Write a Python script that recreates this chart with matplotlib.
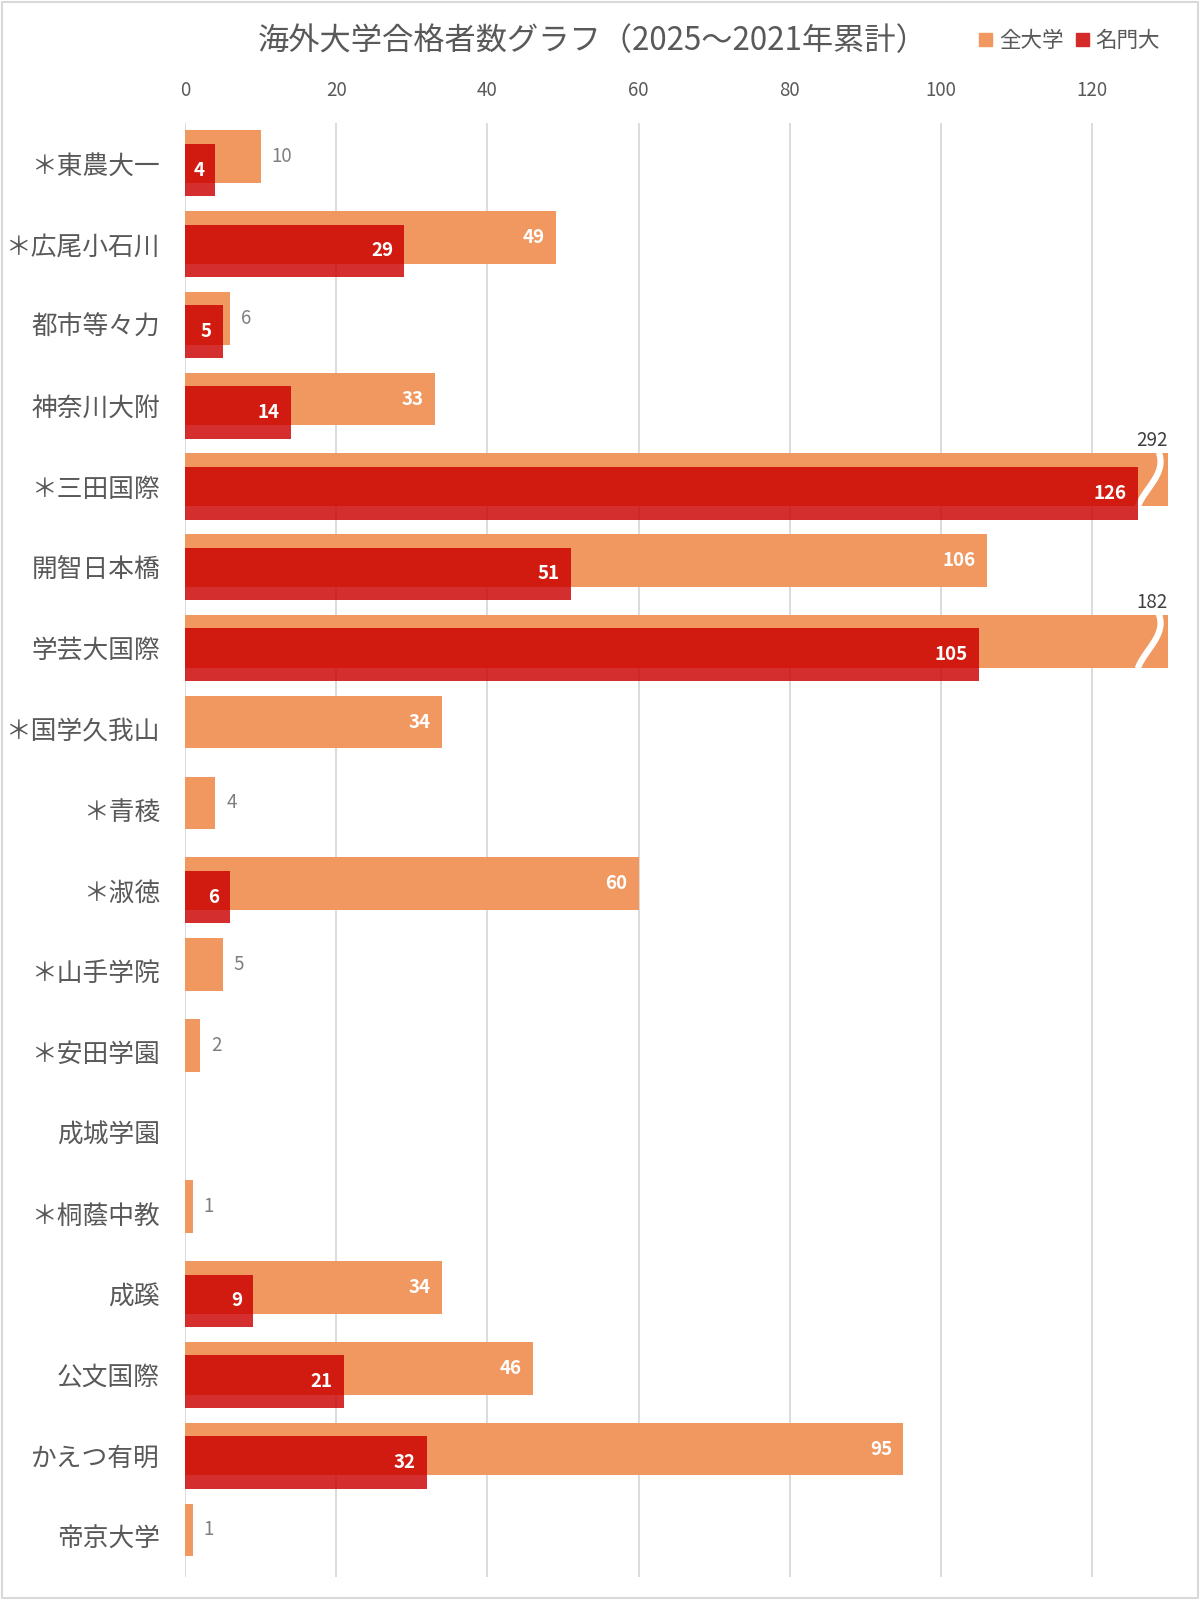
import numpy as np
import matplotlib.pyplot as plt
from matplotlib.patches import Patch, Rectangle

plt.rcParams['font.family'] = ['Noto Sans CJK JP', 'DejaVu Sans']

names = ['＊東農大一', '＊広尾小石川', '都市等々力', '神奈川大附', '＊三田国際',
         '開智日本橋', '学芸大国際', '＊国学久我山', '＊青稜', '＊淑徳',
         '＊山手学院', '＊安田学園', '成城学園', '＊桐蔭中教', '成蹊',
         '公文国際', 'かえつ有明', '帝京大学']
all_univ = [10, 49, 6, 33, 292, 106, 182, 34, 4, 60, 5, 2, 0, 1, 34, 46, 95, 1]
top_univ = [4, 29, 5, 14, 126, 51, 105, 0, 0, 6, 0, 0, 0, 0, 9, 21, 32, 0]
xticks = [0, 20, 40, 60, 80, 100, 120]
xmax = 130

orange = '#F0985F'
red = '#CB0000'
grey = '#595959'

W, H = 1200, 1599
fig = plt.figure(figsize=(W / 100, H / 100), dpi=100)
ax = fig.add_axes([185 / W, 1 - 1577 / H, (1168 - 185) / W, (1577 - 123) / H])

y = np.arange(len(names))
h = 0.652
off = 0.083
ax.barh(y - off, all_univ, height=h, color=orange, lw=0, zorder=2)
ax.barh(y + off, top_univ, height=h, color=red, alpha=0.82, lw=0, zorder=4)

ax.set_xlim(0, xmax)
ax.set_ylim(len(names) - 0.5, -0.5)
ax.xaxis.tick_top()
ax.set_xticks(xticks)
ax.set_yticks(y, names)
ax.tick_params(axis='x', length=0, pad=16, labelsize=13.5, labelcolor=grey)
ax.tick_params(axis='y', length=0, pad=18, labelsize=18.5, labelcolor=grey)
ax.grid(axis='x', color='#D9D9D9', lw=1.3, zorder=0)
ax.set_axisbelow(True)
for s in ax.spines.values():
    s.set_visible(False)

# データラベル
t = np.linspace(0, 1, 60)
for i, (a, r) in enumerate(zip(all_univ, top_univ)):
    if a > xmax:
        y0 = i - off - h / 2
        y1 = i - off + h / 2
        xs = 127.4 + 1.4 * np.cos(np.pi * t) + 0.8 * np.sin(np.pi * t)
        ys = y0 - 0.01 + (y1 - y0 + 0.02) * t
        ax.plot(xs, ys, color='white', lw=4.5, zorder=3, solid_capstyle='butt')
        ax.annotate(str(a), (xmax, y0), xytext=(0, 1.5), textcoords='offset points',
                    ha='right', va='bottom', color='#404040', fontsize=13.5,
                    annotation_clip=False)
    elif a >= 20:
        ax.annotate(str(a), (a, i - off), xytext=(-8, 0), textcoords='offset points',
                    ha='right', va='center', color='white', fontsize=13.5,
                    fontweight='bold', zorder=5)
    elif a > 0:
        ax.annotate(str(a), (a, i - off), xytext=(8, 0), textcoords='offset points',
                    ha='left', va='center', color='#7F7F7F', fontsize=13.5, zorder=5)
    if r > 0:
        ax.annotate(str(r), (r, i + off), xytext=(-8, 0), textcoords='offset points',
                    ha='right', va='center', color='white', fontsize=13.5,
                    fontweight='bold', zorder=5)

fig.text(593 / W, 1 - 41 / H, '海外大学合格者数グラフ（2025～2021年累計）',
         ha='center', va='center', fontsize=22.5, color=grey)

handles = [Patch(color=orange, label='全大学'), Patch(color='#D42A2A', label='名門大')]
fig.legend(handles=handles, loc='center right', bbox_to_anchor=(1160 / W, 1 - 41 / H),
           ncol=2, frameon=False, fontsize=15.5, handlelength=0.6, handleheight=0.6,
           handletextpad=0.3, columnspacing=0.6, borderpad=0, borderaxespad=0,
           labelcolor=grey)

fig.add_artist(Rectangle((1.5 / W, 1.5 / H), (1197.5 - 1.5) / W, (1597 - 1.5) / H,
                         transform=fig.transFigure, fill=False, ec='#D9D9D9', lw=1.5))

fig.savefig('out.png', dpi=100)
